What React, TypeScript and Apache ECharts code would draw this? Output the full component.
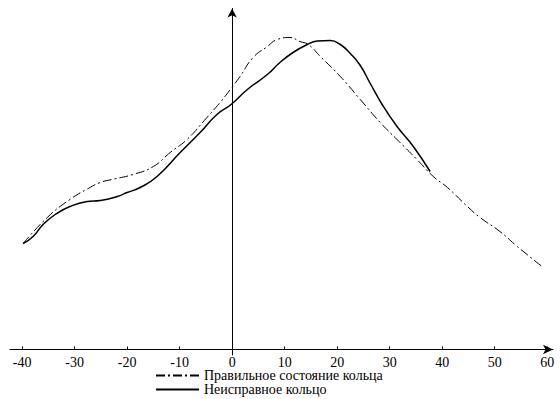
import React, { useEffect, useRef } from "react";
import * as echarts from "echarts";

const tickValues = [-40, -30, -20, -10, 0, 10, 20, 30, 40, 50, 60];

const normalX = [
  -39.8, -35.2, -30.9, -27.4, -25.1, -22.9, -18.9, -15.0, -11.8, -8.6, -4.8,
  -2.3, -0.2, 1.5, 4.0, 6.7, 8.6, 11.0, 12.9, 14.5, 16.8, 20.6, 24.4, 28.2,
  31.4, 35.2, 38.3, 41.0, 44.8, 47.2, 51.0, 54.3, 59.0,
];
const normalY = [
  106, 132, 150, 161, 167, 170, 175, 183, 197, 210, 232, 247, 261, 273, 292,
  303, 310, 312, 308, 305, 293, 273, 250, 227, 210, 190, 173, 162, 143, 132,
  118, 103, 83,
];

const faultyX = [
  -39.8, -37.9, -36.0, -33.7, -30.9, -27.6, -25.1, -21.9, -20.0, -17.5, -14.3,
  -9.9, -6.1, -2.9, -0.2, 2.9, 6.7, 9.1, 11.6, 14.3, 16.2, 18.7, 20.6, 22.5,
  24.4, 26.3, 28.8, 31.4, 34.5, 37.7,
];
const faultyY = [
  106, 113, 125, 135, 143, 148, 149, 153, 157, 162, 173, 197, 217, 235, 245,
  260, 275, 287, 297, 305, 308.5, 309, 305, 296, 284, 266, 243, 223, 203, 178,
];

const seriesNames = ["Правильное состояние кольца", "Неисправное кольцо"];

export default function App() {
  const ref = useRef<HTMLDivElement>(null);
  useEffect(() => {
    if (!ref.current) return;
    const chart = echarts.init(ref.current, undefined, { renderer: "svg" });
    const font = "'Liberation Serif', 'Times New Roman', serif";
    chart.setOption({
      animation: false,
      backgroundColor: "#fff",
      textStyle: { fontFamily: font, color: "#000" },
      grid: { left: 10, right: 7, top: 8.5, bottom: 44, containLabel: false },
      legend: {
        orient: "vertical",
        left: 155,
        top: 368.5,
        itemWidth: 43,
        itemHeight: 10,
        itemGap: 0,
        padding: 0,
        itemStyle: { opacity: 0 },
        textStyle: { fontFamily: font, fontSize: 14, lineHeight: 13, color: "#000" },
        data: seriesNames,
      },
      xAxis: {
        type: "value",
        min: -42.3,
        max: 61.1,
        axisLine: {
          onZero: true,
          symbol: ["none", "arrow"],
          symbolSize: [7, 10],
          lineStyle: { color: "#000", width: 1 },
        },
        axisTick: {
          show: true,
          inside: true,
          length: 3,
          customValues: tickValues,
          lineStyle: { color: "#000" },
        },
        axisLabel: {
          customValues: tickValues,
          fontFamily: font,
          fontSize: 14,
          lineHeight: 13,
          color: "#000",
          margin: 1,
        },
        splitLine: { show: false },
      },
      yAxis: {
        type: "value",
        min: -5.5,
        max: 341,
        axisLine: {
          show: true,
          onZero: true,
          symbol: ["none", "arrow"],
          symbolSize: [7, 9],
          lineStyle: { color: "#000", width: 1 },
        },
        axisTick: { show: false },
        axisLabel: { show: false },
        splitLine: { show: false },
      },
      series: [
        {
          name: seriesNames[0],
          type: "line",
          data: normalX.map((x, i) => [x, normalY[i]]),
          smooth: 0.5,
          symbol: "none",
          showSymbol: false,
          lineStyle: { color: "#000", width: 1, type: [9, 3, 2, 3] },
          itemStyle: { color: "#000" },
        },
        {
          name: seriesNames[1],
          type: "line",
          data: faultyX.map((x, i) => [x, faultyY[i]]),
          smooth: 0.5,
          symbol: "none",
          showSymbol: false,
          lineStyle: { color: "#000", width: 1.5, type: "solid" },
          itemStyle: { color: "#000" },
        },
      ],
    });
    return () => chart.dispose();
  }, []);
  return (
    <div
      ref={ref}
      style={{ position: "absolute", left: 0, top: 0, width: 560, height: 399 }}
    />
  );
}
